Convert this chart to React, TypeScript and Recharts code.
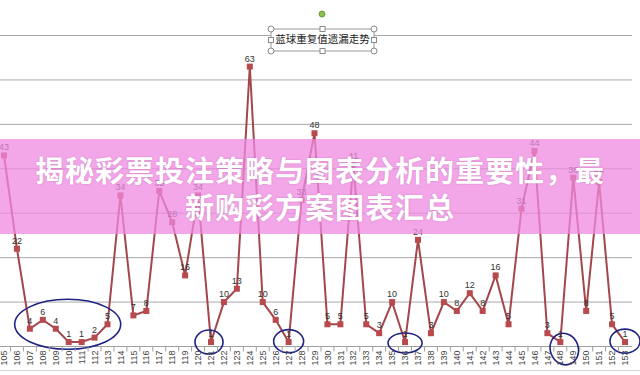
import React from "react";
import {
  LineChart,
  Line,
  XAxis,
  YAxis,
  CartesianGrid,
  LabelList,
  ReferenceDot,
} from "recharts";

// 期号
const issues = [
  "105", "106", "107", "108", "109", "110", "111", "112", "113", "114",
  "115", "116", "117", "118", "119", "120", "121", "122", "123", "124",
  "125", "126", "127", "128", "129", "130", "131", "132", "133", "134",
  "135", "136", "137", "138", "139", "140", "141", "142", "143", "144",
  "145", "146", "147", "148", "149", "150", "151", "152", "153",
];

// 遗漏值
const misses = [
  43, 22, 4, 6, 4, 1, 1, 2, 5, 34,
  7, 8, 35, 28, 16, 34, 1, 10, 13, 63,
  10, 6, 1, 33, 48, 5, 5, 41, 5, 3,
  10, 1, 24, 3, 10, 8, 12, 8, 16, 5,
  31, 44, 3, 1, 38, 8, 37, 5, 1,
];

const yTicks = [0, 10, 20, 30, 40, 50, 60, 70];

// hand-drawn circles around the low values
const circledIssues = ["110", "121", "127", "136", "148", "153"];
const circledLevels = [5, 1, 1.2, 0.8, 1, 1.2];
const circleRx = [53, 14, 15, 17, 14, 15];
const circleRy = [25, 12, 11.5, 10, 16, 12];
const circleShiftX = [-1, -2, 0, 0, 4, 0];
const circleShiftY = [0, 0, 0, 0, 7, 0];
const circleTilt = [0, 0, 0, 0, -20, 0];

const data = issues.map((issue, i) => ({ issue, v: misses[i] }));

const CHART_W = 643;
const MARGIN = { top: 35.5, right: 8, bottom: 2.5, left: 0 };
const PAD = 7;
const STEP = (CHART_W - MARGIN.left - MARGIN.right - 2 * PAD) / (issues.length - 1);

const IssueTick = (props: any) => {
  const { x, y, payload } = props;
  return (
    <g>
      <line x1={x - STEP / 2} x2={x - STEP / 2} y1={y - 4} y2={y + 1} stroke="#a0a0a0" />
      <text
        x={x}
        y={y}
        transform={`rotate(-90 ${x} ${y})`}
        textAnchor="end"
        dy="0.35em"
        fontSize={9}
        fill="#444"
        fontFamily="Liberation Sans, Arial, sans-serif"
      >
        {payload.value}
      </text>
    </g>
  );
};

const SquareDot = (p: any) => (
  <rect key={`d${p.index}`} x={p.cx - 3} y={p.cy - 3} width={6} height={6} fill="#b84a4e" />
);

function TitleBox() {
  const x0 = 271, y0 = 29, x1 = 374, y1 = 51;
  const mx = (x0 + x1) / 2, my = (y0 + y1) / 2;
  const corners = [[x0, y0], [x1, y0], [x0, y1], [x1, y1]];
  const mids = [[mx, y0], [mx, y1], [x0, my], [x1, my]];
  return (
    <svg width={640} height={375} style={{ position: "absolute", left: 0, top: 0, pointerEvents: "none" }}>
      <circle cx={322} cy={14} r={3} fill="#8cc152" stroke="#6b9a3a" />
      <rect x={x0} y={y0} width={x1 - x0} height={y1 - y0} fill="#fff" stroke="#9a9a9a" />
      <text
        x={mx}
        y={my + 0.5}
        textAnchor="middle"
        dominantBaseline="middle"
        fontSize={10.5}
        fill="#222"
        fontFamily="Noto Sans CJK SC, sans-serif"
      >
        蓝球重复值遗漏走势
      </text>
      {corners.map(([cx, cy], i) => (
        <circle key={`c${i}`} cx={cx} cy={cy} r={3} fill="#fff" stroke="#8a8a8a" />
      ))}
      {mids.map(([cx, cy], i) => (
        <rect key={`m${i}`} x={cx - 2.5} y={cy - 2.5} width={5} height={5} fill="#fff" stroke="#8a8a8a" />
      ))}
    </svg>
  );
}

export default function App() {
  return (
    <div style={{ position: "absolute", left: 0, top: 0, width: 640, height: 375, overflow: "hidden", background: "#fff" }}>
      <div style={{ position: "absolute", left: -3, top: 0 }}>
        <LineChart width={CHART_W} height={375} data={data} margin={MARGIN}>
          <CartesianGrid vertical={false} stroke="#a8a8a8" />
          <XAxis
            dataKey="issue"
            interval={0}
            height={26}
            tickSize={0}
            tickMargin={4}
            padding={{ left: PAD, right: PAD }}
            tick={<IssueTick />}
            axisLine={{ stroke: "#a0a0a0" }}
          />
          <YAxis hide domain={[0, 70]} ticks={yTicks} />
          <Line
            type="linear"
            dataKey="v"
            stroke="#a3474c"
            strokeWidth={2}
            dot={SquareDot}
            activeDot={false}
            isAnimationActive={false}
          >
            <LabelList
              dataKey="v"
              position="top"
              offset={5}
              fontSize={9}
              fill="#333"
              fontFamily="Liberation Sans, Arial, sans-serif"
            />
          </Line>
          {circledIssues.map((issue, i) => (
            <ReferenceDot
              key={issue}
              x={issue}
              y={circledLevels[i]}
              ifOverflow="visible"
              shape={(p: any) => {
                const cx = p.cx + circleShiftX[i];
                const cy = p.cy + circleShiftY[i];
                return (
                  <ellipse
                    cx={cx}
                    cy={cy}
                    rx={circleRx[i]}
                    ry={circleRy[i]}
                    transform={`rotate(${circleTilt[i]} ${cx} ${cy})`}
                    fill="none"
                    stroke="#1f2383"
                    strokeWidth={1.6}
                  />
                );
              }}
            />
          ))}
        </LineChart>
      </div>
      <div style={{ position: "absolute", left: 0, top: 370, width: 640, height: 1, background: "#d4d4d4" }} />
      <TitleBox />
      <div
        style={{
          position: "absolute",
          left: 0,
          top: 139,
          width: 640,
          height: 95,
          background: "rgba(239,138,226,0.75)",
          color: "#fff",
          fontFamily: "Noto Sans CJK SC, sans-serif",
          fontWeight: 700,
          fontSize: 29,
          letterSpacing: 1,
          lineHeight: "37px",
          textAlign: "center",
          paddingTop: 12,
          boxSizing: "border-box",
          textShadow: "0 0 2px rgba(140,50,120,0.35)",
        }}
      >
        揭秘彩票投注策略与图表分析的重要性，最
        <br />
        新购彩方案图表汇总
      </div>
    </div>
  );
}
